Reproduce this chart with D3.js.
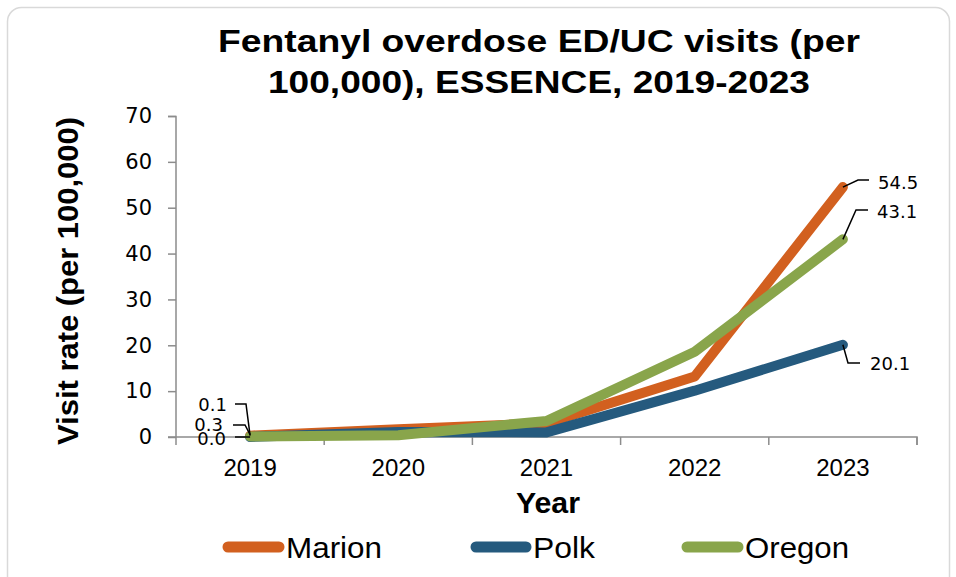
<!DOCTYPE html>
<html><head><meta charset="utf-8">
<script src="https://cdn.jsdelivr.net/npm/d3@7"></script>
<style>body{margin:0;background:#fff}svg{display:block}</style>
</head><body>
<script>
const years = ["2019","2020","2021","2022","2023"];
const marion = [0.3, 1.7, 3.0, 13.2, 54.5];
const polk   = [0.0, 1.1, 1.0, 10.1, 20.1];
const oregon = [0.1, 0.4, 3.5, 18.6, 43.1];
const seriesNames = ["Marion","Polk","Oregon"];
const colors = ["#D2601F","#255A7E","#89A54B"];
const yTicks = [0,10,20,30,40,50,60,70];

const W=956,H=577;
const svg=d3.select("body").append("svg").attr("width",W).attr("height",H);
svg.append("rect").attr("x",7.5).attr("y",7.5).attr("width",942).attr("height",590).attr("rx",14)
  .attr("fill","#fff").attr("stroke","#d9d9d9").attr("stroke-width",1.5);

const x=d3.scaleBand().domain(years).range([176,917]);
const y=d3.scaleLinear().domain([0,70]).range([437,116]);
const cx=d=>x(d)+x.bandwidth()/2;
const SANS="Liberation Sans, Arial, sans-serif";
const LABF="DejaVu Sans, sans-serif";

// title
const title=svg.append("g").attr("font-family",SANS).attr("font-weight","bold").attr("font-size",31).attr("text-anchor","middle").attr("fill","#000");
title.append("text").attr("x",539).attr("y",52).attr("textLength",642).attr("lengthAdjust","spacingAndGlyphs").text("Fentanyl overdose ED/UC visits (per");
title.append("text").attr("x",539).attr("y",93).attr("textLength",542).attr("lengthAdjust","spacingAndGlyphs").text("100,000), ESSENCE, 2019-2023");

// axes
const yAxis=d3.axisLeft(y).tickValues(yTicks).tickSize(8).tickPadding(16);
const gy=svg.append("g").attr("transform","translate(176,0)").call(yAxis);
gy.selectAll("path,line").attr("stroke","#8c8c8c").attr("stroke-width",1.5);
gy.select(".domain").attr("d","M-8,116.5H0V437");
gy.selectAll("text").attr("font-family",LABF).attr("font-size",21).attr("fill","#000");

const xAxis=d3.axisBottom(x).tickSize(0);
const gx=svg.append("g").attr("transform","translate(0,437)").call(xAxis);
gx.select(".domain").attr("stroke","#8c8c8c").attr("stroke-width",1.5).attr("d","M168,0H917V8");
gx.selectAll("text").attr("font-family",SANS).attr("font-size",24).attr("fill","#000").attr("y",39).attr("dy",null);
// category boundary ticks
const bounds=years.map(d=>x(d)).concat([917]);
svg.append("g").selectAll("line").data(bounds).join("line")
  .attr("x1",d=>d).attr("x2",d=>d).attr("y1",437).attr("y2",445)
  .attr("stroke","#8c8c8c").attr("stroke-width",1.5);

// axis titles
svg.append("text").attr("transform","translate(78,281) rotate(-90)").attr("text-anchor","middle")
  .attr("font-family",SANS).attr("font-weight","bold").attr("font-size",30)
  .attr("textLength",328).attr("lengthAdjust","spacingAndGlyphs").text("Visit rate (per 100,000)");
svg.append("text").attr("x",548).attr("y",513).attr("text-anchor","middle")
  .attr("font-family",SANS).attr("font-weight","bold").attr("font-size",30)
  .attr("textLength",64).attr("lengthAdjust","spacingAndGlyphs").text("Year");

// lines
const data=[marion,polk,oregon];
const line=d3.line().x((d,i)=>cx(years[i])).y(d=>y(d));
svg.append("g").selectAll("path").data(data).join("path")
  .attr("d",line).attr("fill","none").attr("stroke",(d,i)=>colors[i])
  .attr("stroke-width",10).attr("stroke-linejoin","round").attr("stroke-linecap","round");

// data labels with leader lines
const lab=svg.append("g").attr("font-family",LABF).attr("font-size",18).attr("fill","#000");
function label(val,px,py,pts,tx,ty,anchor){
  lab.append("path").attr("d",d3.line()(pts.concat([[px,py]]))).attr("fill","none").attr("stroke","#000").attr("stroke-width",1.5);
  lab.append("text").attr("x",tx).attr("y",ty).attr("dy","0.35em").attr("text-anchor",anchor).text(val.toFixed(1));
}
const x0=cx(years[0]), x4=cx(years[4]);
// 2019
label(oregon[0],x0,y(oregon[0])-1,[[235,404],[246,404]],227,405,"end");
label(marion[0],x0,y(marion[0])-1,[[233,425],[245,425]],223,425,"end");
label(polk[0],x0,y(polk[0]),[[235,437]],226,439,"end");
// 2023
label(marion[4],x4,y(marion[4]),[[869,180],[858,180]],878,183,"start");
label(oregon[4],x4,y(oregon[4]),[[868,210],[856,210]],877,212,"start");
label(polk[4],x4,y(polk[4]),[[860,363],[848,363]],870,364,"start");

// legend
const legLine=[[223,284],[471,531],[682,743]];
const legW=[96,62,104];
const leg=svg.append("g");
seriesNames.forEach((n,i)=>{
  leg.append("line").attr("x1",legLine[i][0]+5).attr("x2",legLine[i][1]-5).attr("y1",547).attr("y2",547)
    .attr("stroke",colors[i]).attr("stroke-width",11).attr("stroke-linecap","round");
  leg.append("text").attr("x",legLine[i][1]+2).attr("y",558)
    .attr("font-family",SANS).attr("font-size",30)
    .attr("textLength",legW[i]).attr("lengthAdjust","spacingAndGlyphs").text(n);
});
</script>
</body></html>
